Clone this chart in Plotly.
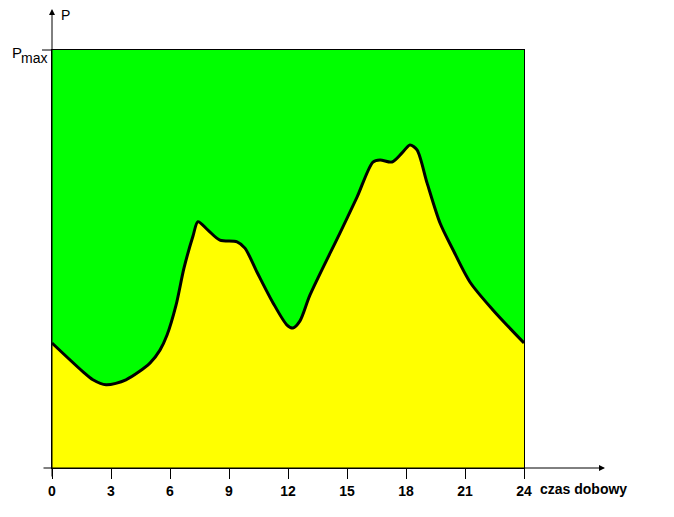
import plotly.graph_objects as go

# Data: hour of day vs load as % of Pmax
hours = [0, 1.58, 2.08, 2.75, 3.76, 4.98, 5.49, 5.85, 6.31, 6.71, 7.17, 7.42, 7.93, 8.54,
         9.41, 9.81, 10.42, 11.24, 11.95, 12.25, 12.61, 13.12, 14.64, 15.51, 16.32, 16.68,
         17.29, 17.80, 18.2, 18.56, 19.07, 19.73, 20.39, 21.25, 22.42, 24]
load = [29.9, 23.0, 21.1, 19.9, 21.1, 25.1, 28.2, 31.8, 39.0, 47.8, 55.5, 58.9, 56.9, 54.5,
        54.1, 52.6, 46.9, 39.5, 34.2, 33.5, 35.2, 41.4, 56.2, 64.8, 73.2, 73.7,
        73.2, 75.4, 77.3, 76.1, 68.2, 58.6, 52.2, 44.5, 37.8, 29.9]
x_ticks = [0, 3, 6, 9, 12, 15, 18, 21, 24]
x_title = "czas dobowy"
y_title = "P"
pmax_label = "max"

GREEN = "#00FF00"
YELLOW = "#FFFF00"

fig = go.Figure()
fig.add_trace(go.Scatter(
    x=hours, y=load, mode="lines", line=dict(color="black", width=3, shape="spline", smoothing=0.8),
    fill="tozeroy", fillcolor=YELLOW, hoverinfo="skip", showlegend=False))

font_b = dict(family="Arial", size=14, color="black", weight="bold")

fig.update_layout(
    width=674, height=517,
    margin=dict(l=44, r=158, t=42, b=57),
    paper_bgcolor="white", plot_bgcolor=GREEN,
    showlegend=False,
    xaxis=dict(range=[0, 24], tickvals=x_ticks, ticktext=[str(t) for t in x_ticks],
               ticks="outside", ticklen=10, tickwidth=1, tickcolor="black",
               showgrid=False, zeroline=False, showline=True, linecolor="black", linewidth=1,
               mirror=True, tickfont=font_b),
    yaxis=dict(range=[0, 100], showticklabels=False, ticks="", showgrid=False, zeroline=False,
               showline=True, linecolor="black", linewidth=1, mirror=True),
)

# axis arrows
fig.add_annotation(xref="paper", yref="paper", x=(605 - 52) / 472, y=0,
                   axref="pixel", ayref="pixel", ax=-563, ay=0, text="",
                   showarrow=True, arrowhead=2, arrowsize=1.2, arrowwidth=1, arrowcolor="black")
fig.add_annotation(xref="paper", yref="paper", x=0, y=(468 - 8) / 418,
                   axref="pixel", ayref="pixel", ax=0, ay=470, text="",
                   showarrow=True, arrowhead=2, arrowsize=1.2, arrowwidth=1, arrowcolor="black")
# Pmax tick
fig.add_shape(type="line", xref="paper", yref="paper", x0=-10 / 472, x1=0, y0=1, y1=1,
              line=dict(color="black", width=1))

# labels
fig.add_annotation(xref="paper", yref="paper", x=(60 - 52) / 472, y=(468 - 15) / 418,
                   text=y_title, showarrow=False, xanchor="left", yanchor="middle", borderpad=0,
                   font=dict(family="Arial", size=14, color="black"))
fig.add_annotation(xref="paper", yref="paper", x=(10 - 52) / 472, y=(468 - 53) / 418,
                   text="P", showarrow=False, xanchor="left", yanchor="middle",
                   font=dict(family="Arial", size=15, color="black"))
fig.add_annotation(xref="paper", yref="paper", x=(19 - 52) / 472, y=(468 - 58) / 418,
                   text=pmax_label, showarrow=False, xanchor="left", yanchor="middle",
                   font=dict(family="Arial", size=14, color="black"))
fig.add_annotation(xref="paper", yref="paper", x=(538 - 52) / 472, y=(468 - 489) / 418,
                   text=x_title, showarrow=False, xanchor="left", yanchor="middle",
                   font=font_b)

fig.write_html("out.html")
